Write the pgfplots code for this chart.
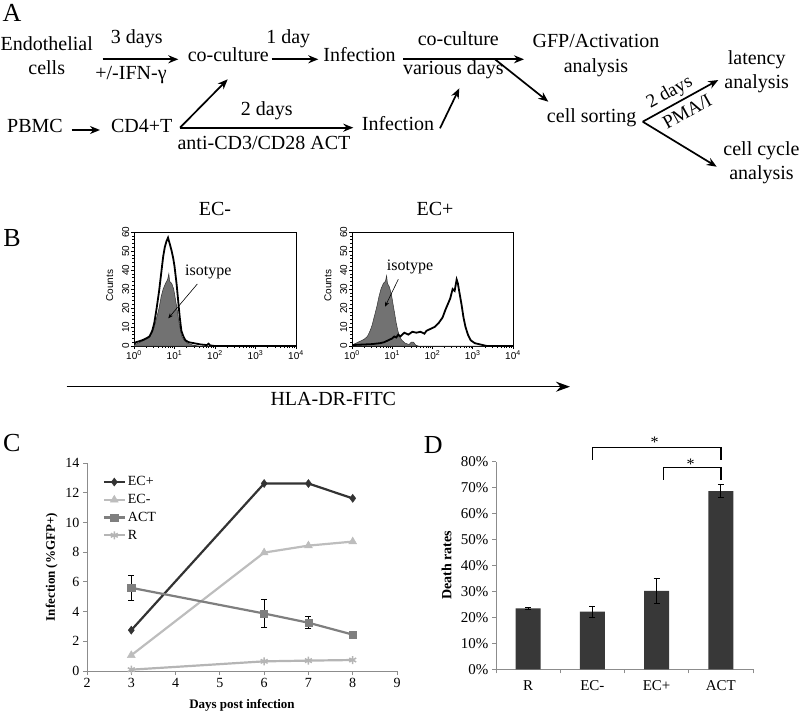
\documentclass[border=0pt]{standalone}
\usepackage{fontspec}
\setmainfont{Liberation Serif}
\newfontfamily\sansf{Liberation Sans}
\usepackage{pgfplots}
\pgfplotsset{compat=1.18}
\usetikzlibrary{arrows.meta}
\definecolor{ecp}{HTML}{333333}
\definecolor{ecm}{HTML}{BDBDBD}
\definecolor{actc}{HTML}{7F7F7F}
\definecolor{rc}{HTML}{B5B5B5}
\definecolor{barc}{HTML}{383838}
\definecolor{axc}{HTML}{8C8C8C}
\definecolor{isoc}{HTML}{727272}
\begin{document}
\begin{tikzpicture}
\path[use as bounding box] (0,0) rectangle (800pt,-712pt);
\tikzset{
 flow/.style={line width=1.7pt, -{Stealth[length=10pt,width=8pt]}},
 lab/.style={font=\fontsize{20}{22}\selectfont, inner sep=0pt, text height=0.68em, text depth=0.2em},
 rlab/.style={font=\fontsize{19}{21}\selectfont, inner sep=0pt},
 big/.style={font=\fontsize{26}{28}\selectfont, inner sep=0pt}
}
% ---------------- Panel A ----------------
\node[big] at (12pt,-13pt) {A};
\node[lab] at (46.7pt,-48.3pt) {Endothelial};
\node[lab] at (46.7pt,-71.7pt) {cells};
\draw[flow] (102.7pt,-59.3pt) -- (178.3pt,-59.3pt);
\node[lab] at (136.7pt,-40.7pt) {3 days};
\node[lab] at (131pt,-77.3pt) {+/-IFN-γ};
\node[lab] at (228.3pt,-59.3pt) {co-culture};
\draw[flow] (271.7pt,-59.3pt) -- (318.3pt,-59.3pt);
\node[lab] at (288.3pt,-40.7pt) {1 day};
\node[lab] at (359.5pt,-59.3pt) {Infection};
\draw[flow] (403.3pt,-59.3pt) -- (524pt,-59.3pt);
\node[lab] at (458.3pt,-43.3pt) {co-culture};
\node[lab] at (453.3pt,-71.7pt) {various days};
\draw[flow] (495pt,-59.3pt) -- (548.3pt,-101.7pt);
\node[lab] at (596pt,-45pt) {GFP/Activation};
\node[lab] at (596pt,-70pt) {analysis};
\node[lab] at (591.7pt,-120pt) {cell sorting};
\draw[flow] (642.7pt,-121.7pt) -- (718.3pt,-80pt);
\draw[flow] (642.7pt,-121.7pt) -- (716.7pt,-166.7pt);
\node[rlab, rotate=29, anchor=base] at (672pt,-97pt) {2 days};
\node[rlab, rotate=29, anchor=north] at (684pt,-106pt) {PMA/I};
\node[lab] at (756.7pt,-61.7pt) {latency};
\node[lab] at (756.7pt,-86pt) {analysis};
\node[lab] at (761.5pt,-153.3pt) {cell cycle};
\node[lab] at (761.5pt,-176.7pt) {analysis};
\node[lab] at (35pt,-130pt) {PBMC};
\draw[flow] (71.7pt,-130pt) -- (100pt,-130pt);
\node[lab] at (141.7pt,-130pt) {CD4+T};
\draw[flow] (180pt,-127.7pt) -- (227.7pt,-79.3pt);
\draw[flow] (180pt,-127.7pt) -- (353.3pt,-127.7pt);
\node[lab] at (266.7pt,-113.3pt) {2 days};
\node[lab] at (264pt,-146.7pt) {anti-CD3/CD28 ACT};
\node[lab] at (398pt,-128.3pt) {Infection};
\draw[flow] (440pt,-128.3pt) -- (459.3pt,-88.3pt);
% ---------------- Panel B ----------------
\node[big] at (12pt,-238pt) {B};
\node[lab] at (215pt,-213.3pt) {EC-};
\node[lab] at (435pt,-213pt) {EC+};
\pgfplotsset{histo/.style={anchor=south west, scale only axis, height=114pt,
  xmin=0, xmax=4, ymin=0, ymax=60, xtick={0,1,2,3,4},
  xticklabels={{10\textsuperscript{0}},{10\textsuperscript{1}},{10\textsuperscript{2}},{10\textsuperscript{3}},{10\textsuperscript{4}}},
  minor xtick={0.301,0.477,0.602,0.699,0.778,0.845,0.903,0.954,1.301,1.477,1.602,1.699,1.778,1.845,1.903,1.954,2.301,2.477,2.602,2.699,2.778,2.845,2.903,2.954,3.301,3.477,3.602,3.699,3.778,3.845,3.903,3.954},
  ytick={0,10,...,60}, minor y tick num=4,
  tick pos=left, tick align=outside, major tick length=3pt, minor tick length=2pt,
  axis line style={line width=0.7pt}, tick style={line width=0.6pt, black},
  ticklabel style={font=\sansf\fontsize{10}{11}\selectfont},
  /pgf/number format/assume math mode=true,
  yticklabel style={rotate=90, anchor=south, inner sep=1.5pt},
  xticklabel style={inner sep=1.5pt},
  ylabel={Counts}, ylabel style={font=\sansf\fontsize{10}{11}\selectfont, at={(axis description cs:-0.15,0.53)}, anchor=center, rotate=0},
  clip=true}}
\begin{axis}[histo, at={(134pt,-346pt)}, width=162pt]
\addplot[fill=isoc, draw=black!80, line width=0.5pt] coordinates {(0,0.5) (0.1,1.5) (0.2,2.5) (0.3,3.5) (0.38,4.5) (0.45,7) (0.5,10) (0.56,15) (0.62,20) (0.67,26) (0.72,30) (0.78,33) (0.83,35) (0.86,38) (0.88,34) (0.93,33) (0.98,30) (1.02,25) (1.06,20) (1.1,14) (1.14,9) (1.18,5) (1.24,3) (1.32,1.5) (1.45,0.5) (1.6,0) (4,0)} \closedcycle;
\addplot[black, line width=1.8pt] coordinates {(0,1) (0.05,2) (0.13,2.5) (0.2,3) (0.3,4) (0.38,5) (0.45,8) (0.5,12) (0.56,20) (0.62,29) (0.67,38) (0.72,47) (0.76,52) (0.8,55) (0.84,57) (0.88,54) (0.93,50) (0.97,46) (1.0,42) (1.05,33) (1.09,24) (1.13,15) (1.17,8) (1.22,5) (1.27,3) (1.35,2) (1.5,1.4) (1.65,0.8) (1.8,0.5) (1.84,1.2) (1.88,0.3) (2.0,0) (4,0)};
\end{axis}
\begin{axis}[histo, at={(352pt,-346pt)}, width=161pt]
\addplot[fill=isoc, draw=black!80, line width=0.5pt] coordinates {(0,0.5) (0.1,1.5) (0.2,2.5) (0.3,3.5) (0.38,5) (0.45,8) (0.5,11) (0.56,16) (0.62,21) (0.67,26) (0.72,30) (0.78,33) (0.83,34) (0.86,37) (0.88,33) (0.93,31) (0.98,27) (1.02,22) (1.06,17) (1.1,12) (1.14,8) (1.18,5) (1.24,3) (1.32,1.5) (1.42,0.8) (1.47,2) (1.53,2) (1.58,0.5) (1.65,0) (4,0)} \closedcycle;
\addplot[black, line width=1.8pt] coordinates {(0,0.5) (0.3,0.8) (0.5,1) (0.7,1.5) (0.8,2) (0.9,3) (1.0,4) (1.05,5) (1.1,4.5) (1.15,6) (1.2,5) (1.3,7) (1.4,6) (1.5,7.5) (1.6,7) (1.7,7.5) (1.8,6.5) (1.85,8) (1.95,9) (2.05,10) (2.15,12) (2.25,15) (2.32,19) (2.38,22) (2.44,25) (2.5,30) (2.55,29) (2.6,35) (2.63,33) (2.67,28) (2.72,22) (2.77,15) (2.82,10) (2.88,6) (2.95,3) (3.05,1.5) (3.15,1) (3.25,0.5) (3.35,0) (4,0)};
\end{axis}
\node[font=\fontsize{16}{18}\selectfont, inner sep=0pt] at (208.3pt,-271.7pt) {isotype};
\draw[line width=0.6pt, -{Stealth[length=5pt,width=4pt]}] (197.3pt,-284pt) -- (168.3pt,-318.3pt);
\node[font=\fontsize{16}{18}\selectfont, inner sep=0pt] at (410pt,-266.7pt) {isotype};
\draw[line width=0.6pt, -{Stealth[length=5pt,width=4pt]}] (398.3pt,-279.3pt) -- (385pt,-306.7pt);
\draw[line width=1.5pt, -{Stealth[length=14pt,width=10pt]}] (66.7pt,-386.7pt) -- (570pt,-386.7pt);
\node[lab] at (333.3pt,-402.7pt) {HLA-DR-FITC};
% ---------------- Panel C ----------------
\node[big] at (11.7pt,-443.3pt) {C};
\begin{axis}[at={(87pt,-671pt)}, anchor=south west, scale only axis, width=310pt, height=208pt,
 xmin=2, xmax=9, ymin=0, ymax=14, xtick={2,...,9}, ytick={0,2,...,14},
 axis lines=left, axis line style={-, draw=axc, line width=0.8pt},
 tick style={draw=axc, line width=0.8pt}, tick align=outside, major tick length=4pt,
 ticklabel style={font=\fontsize{14}{16}\selectfont},
 /pgf/number format/assume math mode=true,
 xlabel={\textbf{Days post infection}}, ylabel={\textbf{Infection (\%GFP+)}},
 every axis x label/.style={at={(axis description cs:0.5,-0.163)}, anchor=center, font=\fontsize{13}{15}\selectfont},
 every axis y label/.style={at={(axis description cs:-0.114,0.5)}, anchor=center, rotate=90, font=\fontsize{13}{15}\selectfont},
 clip=false,
 legend style={at={(0.05,0.945)}, anchor=north west, draw=none, fill=none, font=\fontsize{14}{16}\selectfont, row sep=3pt, inner sep=0pt},
 legend cell align=left,
 legend image code/.code={\draw[mark repeat=2,mark phase=2] plot coordinates {(0pt,0pt) (10.5pt,0pt) (21pt,0pt)};}
 ]
\addplot[color=ecp, line width=2.2pt, mark=diamond*, mark size=4pt, mark options={fill=ecp, line width=0.5pt}] coordinates {(3,2.75) (6,12.62) (7,12.62) (8,11.62)};
\addlegendentry{EC+}
\addplot[color=ecm, line width=2.2pt, mark=triangle*, mark size=4.5pt, mark options={fill=ecm, line width=0.5pt}] coordinates {(3,1.06) (6,7.97) (7,8.44) (8,8.71)};
\addlegendentry{EC-}
\addplot[color=actc, line width=2.2pt, mark=square*, mark size=3.6pt, mark options={fill=actc, line width=0.5pt},
 error bars/.cd, y dir=both, y explicit, error bar style={black, line width=0.9pt}, error mark options={black, rotate=90, mark size=3pt, line width=0.9pt}]
 coordinates {(3,5.6) +- (0,0.82) (6,3.87) +- (0,0.92) (7,3.25) +- (0,0.4) (8,2.45) +- (0,0.05)};
\addlegendentry{ACT}
\addplot[color=rc, line width=2.2pt, mark=asterisk, mark size=4pt, mark options={line width=1.5pt}] coordinates {(3,0.09) (6,0.65) (7,0.7) (8,0.74)};
\addlegendentry{R}
\end{axis}
% ---------------- Panel D ----------------
\node[big] at (433.3pt,-445pt) {D};
\begin{axis}[at={(496pt,-669.3pt)}, anchor=south west, scale only axis, width=257pt, height=207.6pt,
 xmin=-0.5, xmax=3.5, ymin=0, ymax=80, ytick={0,10,...,80},
 yticklabel={\pgfmathprintnumber{\tick}\%},
 xtick={0,1,2,3}, xticklabels={R,EC-,EC+,ACT}, minor xtick={-0.5,0.5,1.5,2.5,3.5},
 axis lines=left, axis line style={-, draw=axc, line width=0.8pt},
 tick style={draw=axc, line width=0.8pt}, major x tick style={draw=none},
 tick align=outside, major tick length=4pt, minor tick length=4pt,
 ticklabel style={font=\fontsize{15}{17}\selectfont},
 xticklabel style={yshift=-4pt},
 /pgf/number format/assume math mode=true,
 ylabel={\textbf{Death rates}},
 every axis y label/.style={at={(axis description cs:-0.192,0.5)}, anchor=center, rotate=90, font=\fontsize{14}{16}\selectfont},
 clip=false]
\addplot[ybar, bar width=25pt, fill=barc, draw=none,
 error bars/.cd, y dir=both, y explicit, error bar style={black, line width=0.9pt}, error mark options={black, rotate=90, mark size=3pt, line width=0.9pt}]
 coordinates {(0,23.5) +- (0,0.3) (1,22.2) +- (0,2.2) (2,30.2) +- (0,4.75) (3,68.7) +- (0,2.5)};
\draw[line width=1.3pt] (axis cs:1,80.7) -- (axis cs:1,85.4) -- (axis cs:3,85.4) -- (axis cs:3,80.7);
\draw[line width=1.3pt] (axis cs:2.11,73.0) -- (axis cs:2.11,77.7) -- (axis cs:3,77.7) -- (axis cs:3,73.0);
\node[font=\fontsize{16}{16}\selectfont, inner sep=0pt] at (axis cs:1.97,87.6) {*};
\node[font=\fontsize{16}{16}\selectfont, inner sep=0pt] at (axis cs:2.53,79.2) {*};
\end{axis}
\end{tikzpicture}
\end{document}
